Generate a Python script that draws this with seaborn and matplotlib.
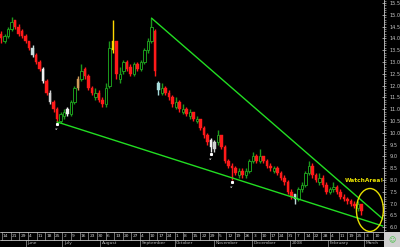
import numpy as np
import pandas as pd
import matplotlib
matplotlib.use("Agg")
import matplotlib.pyplot as plt
from matplotlib.patches import Ellipse, Rectangle
import seaborn as sns

# ---------------- data ----------------
close = [14.0,14.1,14.4,14.7,14.5,14.2,14.1,13.9,13.6,13.3,
         13.0,12.7,12.2,11.7,11.3,11.0,10.6,10.8,10.9,10.8,
         11.3,11.9,12.3,12.6,12.4,11.9,11.7,11.7,11.4,11.2,
         11.9,13.6,13.9,12.5,12.5,13.0,12.7,12.5,12.9,12.7,
         13.0,13.5,13.9,14.5,12.6,11.8,11.9,11.7,11.5,11.2,
         11.3,11.0,11.0,10.8,10.9,10.6,10.6,10.2,9.9,9.6,
         9.4,9.6,9.9,9.4,8.8,8.6,8.5,8.3,8.4,8.2,
         8.4,8.8,9.0,8.8,9.0,8.8,8.6,8.5,8.5,8.3,
         8.1,7.9,7.5,7.3,7.2,7.6,7.8,8.3,8.6,8.2,
         8.0,8.1,7.8,7.5,7.6,7.7,7.5,7.3,7.2,7.1,
         7.0,6.9,7.0,6.7]
open_ = [14.2,13.9,14.1,14.4,14.8,14.5,14.3,14.1,13.9,13.6,
         13.3,13.0,12.7,12.2,11.7,11.3,11.0,10.5,10.7,11.0,
         10.8,11.3,11.9,12.3,12.7,12.4,11.9,11.5,11.7,11.4,
         11.2,12.0,13.5,13.9,12.3,12.6,13.0,12.8,12.5,12.9,
         12.7,13.0,13.5,13.9,14.3,12.1,11.7,11.9,11.7,11.5,
         11.1,11.3,10.9,11.0,10.7,10.9,10.5,10.6,10.2,9.9,
         9.7,9.3,9.6,9.9,9.4,8.8,8.6,8.5,8.2,8.4,
         8.2,8.4,8.8,9.0,8.8,9.0,8.8,8.6,8.4,8.5,
         8.3,8.1,7.9,7.5,7.4,7.2,7.6,7.8,8.3,8.6,
         8.2,7.9,8.1,7.8,7.5,7.6,7.7,7.5,7.3,7.2,
         7.1,7.0,6.8,7.0]
high = [14.3,14.2,14.5,14.9,14.8,14.6,14.4,14.2,13.9,13.7,
        13.4,13.1,12.8,12.3,11.8,11.4,11.1,10.9,11.0,11.1,
        11.4,12.0,12.4,12.9,12.8,12.5,12.0,11.9,11.8,11.5,
        12.1,13.9,14.8,13.9,12.8,13.1,13.1,12.9,13.0,13.0,
        13.1,13.6,14.0,14.86,14.4,12.2,12.1,12.0,11.8,11.6,
        11.5,11.4,11.2,11.1,11.0,10.9,10.7,10.6,10.3,10.0,
        9.8,9.7,10.1,9.9,9.5,8.9,8.7,8.6,8.5,8.5,
        8.5,8.9,9.2,9.1,9.3,9.0,8.9,8.7,8.6,8.6,
        8.4,8.2,8.0,7.6,7.4,7.7,7.9,8.4,8.8,8.7,
        8.3,8.3,8.2,7.9,7.7,7.9,7.8,7.6,7.4,7.3,
        7.2,7.1,7.1,7.0]
low = [13.8,13.8,14.0,14.3,14.4,14.1,14.0,13.8,13.5,13.2,
       12.9,12.6,12.1,11.6,11.2,10.9,10.46,10.4,10.6,10.7,
       10.7,11.2,11.8,12.2,12.3,11.8,11.6,11.4,11.3,11.1,
       11.1,11.9,13.4,12.3,12.1,12.5,12.6,12.4,12.4,12.6,
       12.6,12.9,13.4,13.8,12.4,11.6,11.6,11.6,11.4,11.1,
       11.0,10.9,10.8,10.7,10.6,10.5,10.4,10.1,9.8,9.5,
       9.2,9.2,9.5,9.3,8.7,8.5,8.0,8.2,8.1,8.1,
       8.1,8.3,8.7,8.7,8.7,8.7,8.5,8.4,8.3,8.2,
       8.0,7.8,7.4,7.2,7.0,7.1,7.5,7.7,8.2,8.1,
       7.9,7.8,7.7,7.4,7.4,7.5,7.4,7.2,7.1,7.0,
       6.9,6.8,6.7,6.5]

highlight_idx = [9, 12, 14, 19, 22, 32, 45, 60, 61, 84]
highlight_col = ["#c8dede", "#f0f0f0", "#d0d0d0", "#f0f0f0", "#d09a5a",
                 "#ffd800", "#a8dcdc", "#f0f0f0", "#d0d0d0", "#c0dcdc"]

marker_idx = [16, 60, 66]
marker_text = ["ar", "ar", "ar"]

upper_x = [43.0, 109.1]
upper_y = [14.86, 6.35]
lower_x = [16.0, 109.1]
lower_y = [10.46, 6.05]

ytick_vals = [6.0, 6.5, 7.0, 7.5, 8.0, 8.5, 9.0, 9.5, 10.0, 10.5, 11.0,
              11.5, 12.0, 12.5, 13.0, 13.5, 14.0, 14.5, 15.0, 15.5]

day_labels = ["14","21","29","4","11","18","25","2","9","16","23","30","6","13",
              "20","27","4","10","17","24","1","8","15","22","29","5","12","19",
              "26","3","10","17","24","31","7","14","22","28","4","11","19","25",
              "3","10"]
month_labels = ["June","July","August","September","October","November",
                "December","2008","February","March"]
month_week_pos = [2.8, 7.0, 11.4, 16.0, 20.0, 24.6, 29.0, 33.4, 37.8, 42.0]

df = pd.DataFrame({"i": np.arange(len(close)), "open": open_, "high": high,
                   "low": low, "close": close})

# ---------------- figure ----------------
sns.set_theme(style="dark")
plt.rcParams["font.family"] = ["DejaVu Sans"]
fig = plt.figure(figsize=(4.0, 2.47), dpi=100, facecolor="black")

W, H = 400.0, 247.0
ax = fig.add_axes([0, 15 / H, 384 / W, 232 / H])
ax.set_facecolor("black")

green = "#1c9a1c"
red = "#ff1a1a"
colors = []
for o, c in zip(df["open"], df["close"]):
    colors.append(green if c >= o else red)
for k, cidx in zip(highlight_idx, highlight_col):
    colors[k] = cidx
df["color"] = colors

bw = 0.72
ax.vlines(df["i"], df["low"], df["high"], colors=df["color"], linewidth=1.0, zorder=2)
for _, r in df.iterrows():
    bottom = min(r["open"], r["close"])
    h = max(abs(r["close"] - r["open"]), 0.04)
    up = r["close"] >= r["open"] and r["color"] == green
    if up:
        ax.bar(r["i"], h, bottom=bottom, width=bw, facecolor="black",
               edgecolor=green, linewidth=0.7, zorder=3)
    else:
        ax.bar(r["i"], h, bottom=bottom, width=bw, facecolor=r["color"],
               edgecolor=r["color"], linewidth=0.3, zorder=3)

for k, t in zip(marker_idx, marker_text):
    ax.plot(k, df["low"][k] - 0.08, marker="s", ms=1.2, color="white", zorder=4)
    ax.text(k, df["low"][k] - 0.3, t, color="#b0b0b0", fontsize=2.6,
            ha="center", va="center", zorder=4)

trend = pd.DataFrame({"x": upper_x + lower_x, "y": upper_y + lower_y,
                      "line": ["upper", "upper", "lower", "lower"]})
sns.lineplot(data=trend, x="x", y="y", units="line", estimator=None,
             color="#22dd22", linewidth=1.0, ax=ax, zorder=5)

ax.add_patch(Ellipse((105.4, 6.73), 7.7, 1.82, facecolor="none",
                     edgecolor="#e8e000", linewidth=1.0, zorder=6))
ax.text(103.8, 7.96, "WatchArea!", color="#e8e000", fontsize=4.2,
        fontweight="bold", ha="center", va="center", zorder=6)

ax.set_xlim(-0.286, 109.43)
ax.set_ylim(5.797, 15.627)
ax.set_xlabel("")
ax.set_ylabel("")
ax.set_xticks([])
ax.yaxis.tick_right()
ax.set_yticks(ytick_vals)
ax.set_yticklabels([f"{v:.1f}" for v in ytick_vals])
ax.set_yticks(np.arange(5.8, 15.65, 0.1), minor=True)
ax.tick_params(axis="y", which="major", direction="inout", length=3, width=0.5,
               colors="#c8c8c8", labelsize=3.6, pad=2.5, right=True, left=False)
ax.tick_params(axis="y", which="minor", direction="out", length=1.2, width=0.4,
               colors="#c8c8c8", right=True, left=False)
for s in ["top", "left", "bottom"]:
    ax.spines[s].set_visible(False)
ax.spines["right"].set_color("#c8c8c8")
ax.spines["right"].set_linewidth(0.6)
ax.grid(False)

# ---------------- bottom date strip ----------------
bx = fig.add_axes([0, 0, 384 / W, 15 / H])
bx.set_facecolor("black")
bx.set_xlim(0, 384)
bx.set_ylim(0, 15)
bx.axis("off")
line_c = "#c8c8c8"
for yy in [14.6, 7.5, 0.4]:
    bx.plot([0, 384], [yy, yy], color=line_c, linewidth=0.6)
week_px = 8.63
for k, lab in enumerate(day_labels):
    xp = 2 + week_px * k
    bx.plot([xp, xp], [7.5, 14.6], color=line_c, linewidth=0.4)
    bx.text(xp + 1.0, 11.0, lab, color="#d8d8d8", fontsize=3.2,
            ha="left", va="center")
for lab, wk in zip(month_labels, month_week_pos):
    xp = 2 + week_px * wk
    bx.plot([xp, xp], [0.4, 7.5], color=line_c, linewidth=0.4)
    bx.text(xp + 1.5, 3.9, lab, color="#b8b8b8", fontsize=3.2,
            ha="left", va="center")

# corner box
fig.patches.append(Rectangle((384 / W, 0), 16 / W, 15 / H, transform=fig.transFigure,
                             facecolor="#d0d0d0", edgecolor="none", zorder=1))
fig.text(392 / W, 7 / H, "\u263a", color="#40c040", fontsize=5,
         ha="center", va="center")

fig.savefig("out.png", dpi=100, facecolor="black")
